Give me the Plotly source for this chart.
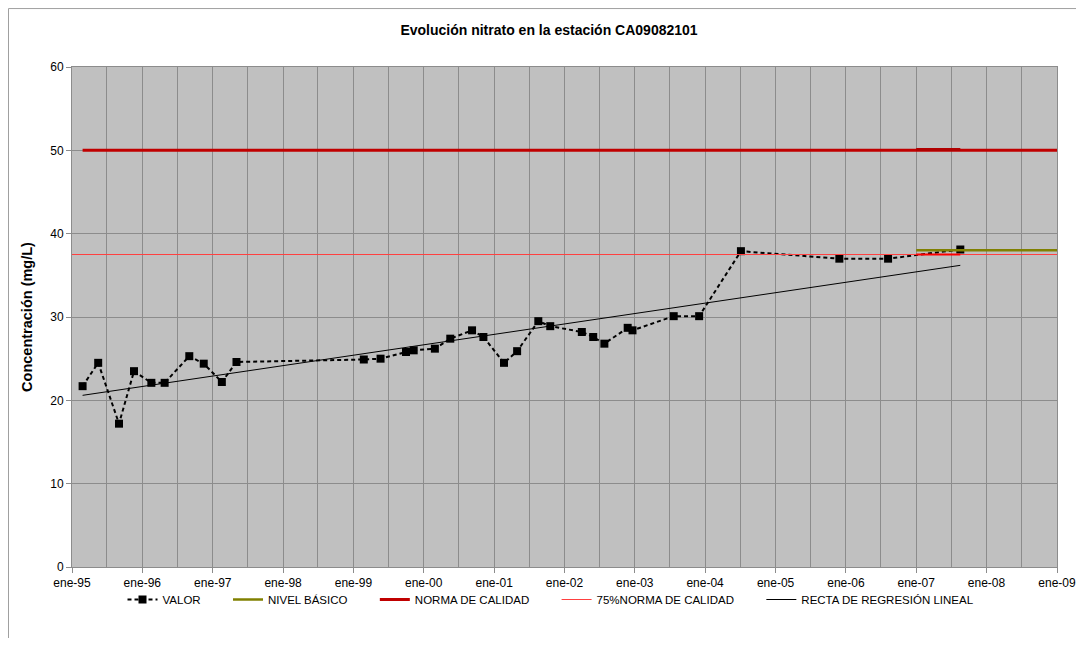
import plotly.graph_objects as go

# ---- data ----
valor_dates = ["1995-02-25", "1995-05-17", "1995-09-02", "1995-11-19", "1996-02-17",
               "1996-04-26", "1996-09-01", "1996-11-15", "1997-02-17", "1997-05-04",
               "1999-02-24", "1999-05-22", "1999-10-01", "1999-11-10", "2000-02-28",
               "2000-05-18", "2000-09-08", "2000-11-06", "2001-02-21", "2001-04-30",
               "2001-08-18", "2001-10-19", "2002-04-01", "2002-05-30", "2002-07-27",
               "2002-11-25", "2002-12-20", "2003-07-22", "2003-12-01", "2004-07-05",
               "2005-11-28", "2006-08-08", "2007-08-18"]
valor_values = [21.7, 24.5, 17.2, 23.5, 22.1, 22.1, 25.3, 24.4, 22.2, 24.6,
                24.9, 25.0, 25.8, 26.0, 26.2, 27.4, 28.4, 27.6, 24.5, 25.9,
                29.5, 28.9, 28.2, 27.6, 26.8, 28.7, 28.4, 30.1, 30.1, 37.9,
                37.0, 37.0, 38.1]

nivel_dates = ["2007-01-01", "2009-01-01"]
nivel_values = [38.0, 38.0]

norma_dates = ["1995-02-25", "2009-01-01"]
norma_values = [50.0, 50.0]
norma_seg_dates = ["2007-01-01", "2007-08-18"]
norma_seg_values = [50.1, 50.1]

n75_dates = ["1995-01-01", "2009-01-01"]
n75_values = [37.5, 37.5]
n75_seg_dates = ["2007-01-01", "2007-08-18"]
n75_seg_values = [37.5, 37.5]

reg_dates = ["1995-02-25", "2007-08-18"]
reg_values = [20.6, 36.2]

tick_years = list(range(1995, 2010))
tick_vals = [f"{y}-01-01" for y in tick_years]
tick_text = [f"ene-{str(y)[2:]}" for y in tick_years]

FONT = "Liberation Sans, Arial, sans-serif"

W, H = 1068, 630
PL, PR, PT, PB = 64, 1049, 59, 559.5
PAD = "\u00a0" * 7

fig = go.Figure()

fig.add_trace(go.Scatter(x=valor_dates, y=valor_values, mode="lines+markers", name="VALOR" + PAD,
                         line=dict(color="black", width=2, dash="4px,3px"),
                         marker=dict(symbol="square", size=8, color="black")))
fig.add_trace(go.Scatter(x=nivel_dates, y=nivel_values, mode="lines", name="NIVEL BÁSICO" + PAD,
                         line=dict(color="#808000", width=2.5)))
fig.add_trace(go.Scatter(x=norma_dates, y=norma_values, mode="lines", name="NORMA DE CALIDAD" + PAD,
                         line=dict(color="#c00000", width=3)))
fig.add_trace(go.Scatter(x=norma_seg_dates, y=norma_seg_values, mode="lines", showlegend=False,
                         hoverinfo="skip", line=dict(color="#b00000", width=3)))
fig.add_trace(go.Scatter(x=n75_dates, y=n75_values, mode="lines", name="75%NORMA DE CALIDAD" + PAD,
                         line=dict(color="#ff4040", width=1)))
fig.add_trace(go.Scatter(x=n75_seg_dates, y=n75_seg_values, mode="lines", showlegend=False,
                         hoverinfo="skip", line=dict(color="#ff0000", width=2)))
fig.add_trace(go.Scatter(x=reg_dates, y=reg_values, mode="lines", name="RECTA DE REGRESIÓN LINEAL",
                         line=dict(color="black", width=1)))

fig.update_layout(
    width=W, height=H,
    margin=dict(l=PL, r=W - PR, t=PT, b=H - PB),
    paper_bgcolor="white",
    plot_bgcolor="#c0c0c0",
    font=dict(family=FONT, size=12, color="black"),
    title=dict(text="<b>Evolución nitrato en la estación CA09082101</b>",
               x=541 / W, xref="container", xanchor="center",
               y=1 - 22 / H, yref="container", yanchor="middle",
               font=dict(family=FONT, size=14, color="black")),
    showlegend=True,
    legend=dict(orientation="h", x=(543 - PL) / (PR - PL), xanchor="center", y=-0.065, yanchor="middle",
                font=dict(family=FONT, size=11.5, color="black"),
                bgcolor="rgba(0,0,0,0)", itemwidth=30),
    xaxis=dict(type="date", range=["1995-01-01", "2009-01-01"],
               tickvals=tick_vals, ticktext=tick_text, ticklabeloverflow="allow",
               automargin=False,
               showgrid=True, gridcolor="#8c8c8c", gridwidth=1,
               ticks="outside", ticklen=5, tickcolor="#8c8c8c",
               showline=True, linecolor="#8c8c8c", linewidth=1, mirror=True,
               minor=dict(dtick="M6", tick0="1995-01-01", showgrid=True,
                          gridcolor="#8c8c8c", gridwidth=1, ticks=""),
               zeroline=False, tickfont=dict(size=12)),
    yaxis=dict(range=[0, 60], dtick=10, tick0=0, automargin=False,
               showgrid=True, gridcolor="#8c8c8c", gridwidth=1,
               ticks="outside", ticklen=5, tickcolor="#8c8c8c",
               showline=True, linecolor="#8c8c8c", linewidth=1, mirror=True,
               zeroline=False, tickfont=dict(size=12),
               title=dict(text="<b>Concentración (mg/L)</b>", font=dict(size=14.5), standoff=14)),
)

# outer chart border (left and top edges visible)
top_y = (PB - 0.5) / (PB - PT)
left_x = (0.5 - PL) / (PR - PL)
fig.add_shape(type="line", xref="paper", yref="paper",
              x0=left_x, x1=1.1, y0=top_y, y1=top_y,
              line=dict(color="#a0a0a0", width=1))
fig.add_shape(type="line", xref="paper", yref="paper",
              x0=left_x, x1=left_x, y0=top_y, y1=-0.2,
              line=dict(color="#a0a0a0", width=1))

fig.write_html("out.html")
